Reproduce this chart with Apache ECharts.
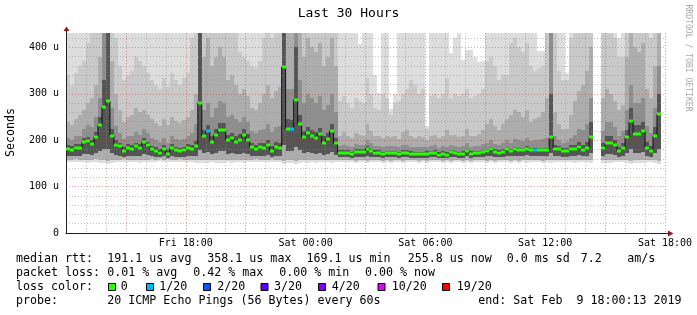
<!DOCTYPE html>
<html><head><meta charset="utf-8">
<script src="https://cdn.jsdelivr.net/npm/echarts@6/dist/echarts.min.js"></script>
<style>html,body{margin:0;padding:0;background:#fff}#c{width:697px;height:315px}</style>
</head><body><div id="c"></div>
<script>
// ---- time axis: 150 columns of 12 minutes, Fri 12:00 -> Sat 18:00
const xTickValues = [30, 60, 90, 120, 150];
const xTickLabels = ['Fri 18:00', 'Sat 00:00', 'Sat 06:00', 'Sat 12:00', 'Sat 18:00'];
const yTickValues = [0, 100, 200, 300, 400];
const yTickLabels = ['0', '100 u', '200 u', '300 u', '400 u'];

// median RTT (us) per column
const median = [
181,179,183,183,196,198,192,207,233,271,
284,210,190,187,177,183,182,187,183,196,
189,180,177,173,181,171,183,178,176,178,
183,180,188,280,209,219,196,212,222,222,
200,204,196,201,212,201,185,180,185,184,
190,177,186,184,358,225,224,287,234,206,
215,209,205,213,195,203,220,193,173,173,
173,170,175,175,175,182,177,173,173,170,
172,172,172,170,173,173,171,170,170,170,
171,172,173,169,171,169,174,172,170,171,
177,171,172,172,174,176,180,175,173,175,
180,176,181,179,178,182,178,178,178,178,
178,206,181,180,177,177,181,181,185,179,
184,207,null,null,184,195,195,189,177,184,
207,241,214,214,220,183,177,210,256,null];

// columns that lost 1 of 20 pings (all others lost none)
const lossOneCols = [35, 56, 117];

// smoke levels (us) per column
const pMin = [
153,152,154,153,152,151,152,153,151,150,
149,151,152,153,154,152,153,152,151,153,
152,154,153,155,153,154,152,153,154,153,
152,153,151,150,151,150,152,151,150,151,
152,151,153,152,151,152,153,154,152,153,
152,154,153,152,148,150,151,149,150,152,
151,152,151,152,153,152,151,152,153,152,
153,152,151,152,153,151,152,153,152,151,
152,151,153,152,151,152,153,152,151,152,
151,152,153,152,151,152,151,153,152,151,
152,151,152,153,152,151,152,151,152,153,
152,151,152,151,152,151,152,153,152,151,
152,150,152,153,152,153,152,151,152,153,
152,150,null,null,151,150,151,152,153,152,
151,149,150,151,150,152,153,150,149,null];
const lo1 = [
158,157,159,158,158,157,158,159,158,157,
156,157,158,158,159,158,158,158,157,158,
158,159,158,160,158,159,158,158,159,158,
158,158,158,157,157,157,158,157,157,157,
158,157,158,158,157,158,158,159,158,158,
158,159,158,158,156,157,157,156,157,158,
157,158,157,158,158,158,157,158,158,157,
158,157,156,157,158,156,157,158,157,156,
157,156,158,157,156,157,158,157,156,157,
156,157,158,157,156,157,156,158,157,156,
157,156,157,158,157,156,157,156,157,158,
157,156,157,156,157,157,157,158,157,156,
157,157,157,158,157,158,157,157,157,158,
157,157,null,null,157,157,157,157,158,157,
157,156,157,157,157,158,158,157,156,null];
const lo2 = [
166,165,167,167,170,171,169,172,176,180,
182,172,168,167,164,166,166,167,166,170,
168,165,164,163,165,162,166,164,164,164,
166,165,167,178,172,175,170,173,176,176,
170,172,170,171,173,171,167,165,167,167,
168,164,167,167,190,176,176,185,178,172,
174,172,171,173,169,171,175,169,163,163,
163,162,164,164,164,166,164,163,163,162,
163,163,163,162,163,163,162,162,162,162,
162,163,163,161,162,161,164,163,162,162,
165,162,163,163,164,165,166,164,163,164,
166,165,167,166,166,168,166,166,166,166,
166,172,166,166,164,164,166,166,168,165,
167,172,null,null,167,170,170,168,164,167,
172,180,173,173,175,167,164,172,182,null];
const p1 = [
189,187,191,191,205,207,201,218,250,330,
450,225,200,195,185,191,190,195,191,205,
197,188,185,181,189,179,191,186,184,186,
191,190,198,450,222,232,208,225,236,236,
212,216,208,213,225,213,195,190,195,194,
201,187,196,194,450,245,244,400,255,220,
229,222,218,227,208,216,234,205,178,178,
178,175,180,180,180,187,182,178,178,175,
177,177,177,175,178,178,176,175,175,175,
176,177,178,174,176,174,179,177,175,176,
182,176,177,177,179,181,185,180,178,180,
185,181,186,184,183,187,183,183,183,183,
183,300,189,187,184,184,190,190,196,190,
196,240,null,null,194,208,208,200,186,195,
222,270,232,232,240,196,188,228,300,null];
const p2 = [
205,200,208,210,225,232,228,250,290,450,
450,270,230,215,202,210,210,218,212,225,
215,205,200,196,205,195,210,203,200,203,
210,215,235,450,265,280,250,270,285,280,
250,255,245,240,250,240,220,215,222,225,
235,218,228,230,450,310,310,450,330,280,
300,290,280,295,265,275,300,260,188,190,
188,185,192,190,190,200,193,188,188,185,
187,187,188,185,190,190,186,185,186,185,
186,188,190,184,187,186,190,187,185,187,
193,186,188,188,192,195,200,192,190,193,
200,195,202,200,198,205,198,200,200,202,
205,450,210,200,195,196,205,212,225,222,
235,290,null,null,220,240,240,228,210,220,
265,320,280,280,290,230,215,270,360,null];
const p3 = [
240,232,245,255,265,280,290,320,380,450,
450,370,300,265,240,250,255,270,260,265,
255,245,238,230,245,232,250,242,238,244,
250,265,300,450,380,420,360,380,400,380,
330,340,320,300,310,295,270,265,280,300,
320,290,305,315,450,430,430,450,450,380,
420,400,390,410,360,380,420,360,210,218,
208,205,215,212,210,235,220,208,210,205,
208,206,210,202,218,222,210,205,208,206,
200,208,212,204,210,222,212,212,206,210,
225,208,210,214,222,235,245,230,222,235,
245,255,265,260,250,265,240,245,250,260,
290,450,260,235,225,225,255,285,305,320,
350,400,null,null,290,310,300,285,265,275,
380,430,400,390,410,310,290,360,450,null];
const p4 = [
340,320,345,360,370,410,430,450,450,450,
450,450,420,360,330,340,350,380,370,360,
345,330,320,310,335,315,345,330,320,335,
345,420,450,450,450,450,450,450,450,450,
450,450,440,390,380,370,360,355,370,420,
450,420,440,450,450,450,450,450,450,450,
450,450,450,450,450,450,450,450,285,295,
280,270,290,285,280,335,300,270,265,300,
290,255,280,285,300,310,330,320,300,310,
225,295,300,290,300,335,290,300,295,300,
310,290,295,300,310,370,380,360,330,340,
340,410,420,400,390,410,360,350,355,360,
450,450,450,350,330,330,420,450,450,450,
450,450,null,null,450,450,440,420,380,380,
450,450,450,450,450,440,420,450,450,null];
const pMax = [
450,450,450,450,450,450,450,450,450,450,
450,450,450,450,450,450,450,450,450,450,
450,450,450,450,450,450,450,450,450,450,
450,450,450,450,450,450,450,450,450,450,
450,450,450,450,450,450,450,450,450,450,
450,450,450,450,450,450,450,450,450,450,
450,450,450,450,450,450,450,450,450,450,
450,450,450,408,450,450,450,340,301,450,
450,268,300,450,450,450,450,450,450,450,
230,450,450,450,450,450,388,420,450,372,
395,395,380,368,370,450,450,450,450,450,
450,450,450,450,450,450,450,450,393,393,
450,450,450,450,450,345,450,450,450,450,
450,450,null,null,450,450,450,450,420,450,
450,450,450,450,450,450,450,450,450,null];

const lossColors = ['#26ff00', '#00b8ff', '#0059ff', '#5e00ff', '#7e00ff', '#dd00ff', '#ff0000'];
const lossLabels = ['0', '1/20', '2/20', '3/20', '4/20', '10/20', '19/20'];

const loss = median.map((m, k) => (lossOneCols.indexOf(k) >= 0 ? 1 : 0));

// ---- presentation
const FONT = 'DejaVu Sans Mono';
const Y_MAX = 431;
const smokeColors = ['#dddddd', '#c9c9c9', '#adadad', '#8e8e8e', '#555555'];
const GRID = 'rgba(140,140,140,0.55)';
const MGRID = 'rgba(200,40,40,0.45)';

const smokeData = [];
for (let k = 0; k < median.length; k++) {
  if (pMax[k] == null) continue;
  smokeData.push([k, pMin[k], lo1[k], lo2[k], p1[k], p2[k], p3[k], p4[k], pMax[k]]);
}
const medLine = [];
const medDash = [];
for (let k = 0; k < median.length; k++) {
  if (median[k] == null) { medLine.push([k, null]); continue; }
  medLine.push([k, median[k]], [k + 1, median[k]]);
  medDash.push([k, median[k], loss[k]]);
}

// split line colours (one per tick)
const yGridColors = [];
for (let v = 0; v <= 420; v += 20) yGridColors.push(v === 0 ? 'rgba(0,0,0,0)' : (v % 100 === 0 ? MGRID : GRID));
yGridColors.push('rgba(0,0,0,0)');
const xGridColors = [];
for (let v = 0; v <= 150; v += 5) xGridColors.push(v === 0 ? 'rgba(0,0,0,0)' : (v % 15 === 0 ? MGRID : GRID));

const chart = echarts.init(document.getElementById('c'), null, {renderer: 'canvas'});

const graphics = [];
function txt(x, y, s, opt) {
  graphics.push({type: 'text', x: x, y: y, silent: true,
    style: Object.assign({text: s, fontFamily: FONT, fontSize: 11.65, fill: '#000', align: 'left', verticalAlign: 'middle'}, opt || {})});
}
// title
txt(348.5, 14, 'Last 30 Hours', {fontSize: 13, align: 'center'});
// y axis name
graphics.push({type: 'text', x: 11, y: 132.5, rotation: Math.PI / 2, silent: true,
  style: {text: 'Seconds', fontFamily: FONT, fontSize: 11.65, fill: '#000', align: 'center', verticalAlign: 'middle'}});
// watermark
graphics.push({type: 'text', x: 688.5, y: 58, rotation: -Math.PI / 2, silent: true,
  style: {text: 'RRDTOOL / TOBI OETIKER', fontFamily: FONT, fontSize: 8.1, fill: '#a8a8a8', align: 'center', verticalAlign: 'middle'}});
// arrows
graphics.push({type: 'line', silent: true, shape: {x1: 66.5, y1: 33, x2: 66.5, y2: 30}, style: {stroke: '#202020', lineWidth: 1}});
graphics.push({type: 'polygon', silent: true, shape: {points: [[63.5, 31], [69.5, 31], [66.5, 26.5]]}, style: {fill: '#8a1c1c'}});
graphics.push({type: 'line', silent: true, shape: {x1: 665, y1: 233.5, x2: 669, y2: 233.5}, style: {stroke: '#202020', lineWidth: 1}});
graphics.push({type: 'polygon', silent: true, shape: {points: [[668, 230.5], [668, 236.5], [673.5, 233.5]]}, style: {fill: '#8a1c1c'}});
// legend lines
const L1 = 259.3, L2 = 273.3, L3 = 287.3, L4 = 301.3;
txt(16, L1, 'median rtt:');
txt(107.3, L1, '191.1 us avg');
txt(207.3, L1, '358.1 us max');
txt(306.5, L1, '169.1 us min');
txt(407.7, L1, '255.8 us now');
txt(506.7, L1, '0.0 ms sd');
txt(580.7, L1, '7.2');
txt(627.3, L1, 'am/s');
txt(16, L2, 'packet loss:');
txt(107.3, L2, '0.01 % avg');
txt(193.3, L2, '0.42 % max');
txt(279.3, L2, '0.00 % min');
txt(365, L2, '0.00 % now');
txt(16, L3, 'loss color:');
const boxX = [108.5, 146.5, 203.5, 261, 318.5, 378, 442.5];
const boxTextX = [120.7, 159.3, 217.3, 274, 331.7, 391.7, 456.7];
for (let i = 0; i < lossLabels.length; i++) {
  graphics.push({type: 'rect', silent: true, shape: {x: boxX[i], y: 283.5, width: 7, height: 7},
    style: {fill: lossColors[i], stroke: '#000', lineWidth: 1}});
  txt(boxTextX[i], L3, lossLabels[i]);
}
txt(16, L4, 'probe:');
txt(107.3, L4, '20 ICMP Echo Pings (56 Bytes) every 60s');
txt(478.3, L4, 'end: Sat Feb  9 18:00:13 2019');

const option = {
  animation: false,
  backgroundColor: '#ffffff',
  grid: {left: 66, top: 33, width: 599, height: 200, containLabel: false},
  xAxis: {
    type: 'value', min: 0, max: 150, interval: 5,
    axisLine: {show: true, onZero: false, lineStyle: {color: '#202020', width: 1}},
    axisTick: {show: false},
    splitLine: {show: true, lineStyle: {color: xGridColors, type: [1, 2], width: 1}},
    axisLabel: {
      show: true, margin: 5, fontFamily: FONT, fontSize: 10, color: '#000',
      showMinLabel: true, showMaxLabel: true, hideOverlap: false,
      formatter: v => { const i = xTickValues.indexOf(Math.round(v)); return i >= 0 ? xTickLabels[i] : ''; }
    }
  },
  yAxis: {
    type: 'value', min: 0, max: Y_MAX, interval: 20,
    axisLine: {show: true, lineStyle: {color: '#202020', width: 1}},
    axisTick: {show: false},
    splitLine: {show: true, lineStyle: {color: yGridColors, type: [1, 2], width: 1}},
    axisLabel: {
      show: true, margin: 7, fontFamily: FONT, fontSize: 10, color: '#000', hideOverlap: false,
      formatter: v => { const i = yTickValues.indexOf(Math.round(v)); return (i >= 0 && Math.abs(v - yTickValues[i]) < 1e-6) ? yTickLabels[i] : ''; }
    }
  },
  graphic: graphics,
  series: [
    {
      type: 'custom', z: -1, silent: true, clip: true,
      data: smokeData,
      encode: {x: 0, y: 1},
      renderItem: function (params, api) {
        const k = api.value(0);
        const x0 = Math.round(api.coord([k, 0])[0]);
        const x1 = Math.round(api.coord([k + 1, 0])[0]);
        const bands = [[1, 8], [2, 7], [2, 6], [3, 5], [3, 4]];
        const children = [];
        for (let b = 0; b < bands.length; b++) {
          const lo = api.value(bands[b][0]);
          const hi = Math.min(api.value(bands[b][1]), Y_MAX);
          if (!(hi > lo)) continue;
          const yLo = Math.round(api.coord([k, lo])[1]);
          const yHi = Math.round(api.coord([k, hi])[1]);
          children.push({type: 'rect', shape: {x: x0, y: yHi, width: x1 - x0, height: yLo - yHi},
            style: {fill: smokeColors[b]}});
        }
        return {type: 'group', children: children};
      }
    },
    {
      type: 'line', data: medLine, symbol: 'none', silent: true, z: 3,
      connectNulls: false,
      lineStyle: {color: '#111', width: 1}
    },
    {
      type: 'custom', z: 4, silent: true,
      data: medDash,
      encode: {x: 0, y: 1},
      renderItem: function (params, api) {
        const k = api.value(0), m = api.value(1), l = api.value(2);
        const a = api.coord([k, m]);
        const b = api.coord([k + 1, m]);
        const x0 = Math.round(a[0]), x1 = Math.round(b[0]);
        return {type: 'rect', shape: {x: x0, y: Math.round(a[1]) - 1.5, width: x1 - x0, height: 3},
          style: {fill: lossColors[l]}};
      }
    }
  ]
};
chart.setOption(option);
</script>
</body></html>
